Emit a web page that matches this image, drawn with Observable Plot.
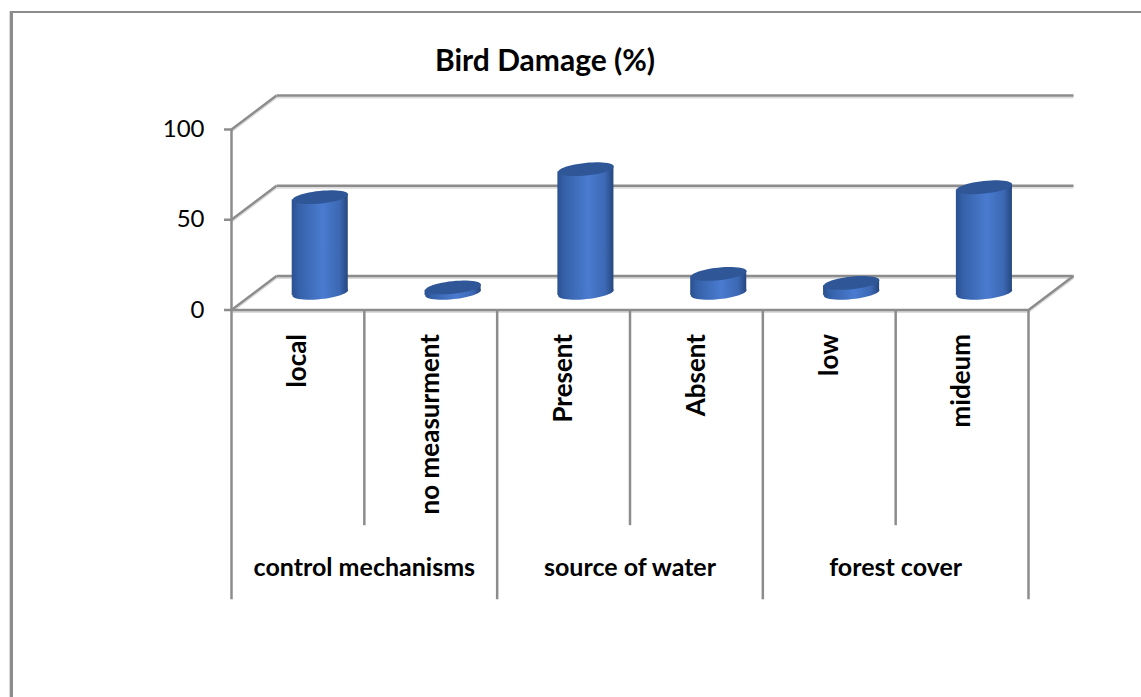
<!DOCTYPE html>
<html>
<head>
<meta charset="utf-8">
<script src="https://cdn.jsdelivr.net/npm/d3@7"></script>
<script src="https://cdn.jsdelivr.net/npm/@observablehq/plot@0.6"></script>
<style>
html,body{margin:0;padding:0;background:#fff;}
#outer{position:absolute;left:10px;top:11px;right:0;bottom:0;border-top:2px solid #8c8c8c;border-left:3px solid #8c8c8c;box-shadow:-1px 0 0 #d8d8d8;pointer-events:none;}
#chart{position:absolute;left:0;top:0;}
</style>
</head>
<body>
<div id="chart"></div>
<div id="outer"></div>
<script>
const categories = ["local","no measurment","Present","Absent","low","mideum"];
const values = [53, 3, 68.5, 10.5, 5.5, 58.5];
const groups = ["control mechanisms","source of water","forest cover"];
const groupSpans = [2, 2, 2];
const yTicks = [0, 50, 100];
const titleText = "Bird Damage (%)";

// 3-D look, in scale units
const depthX = 0.339, depthY = 18.8;
const barOffset = 0.168, barHalf = 0.211, baseY = 9.5, tilt = 1.5;
const gray = "#8c8c8c";
const font = "Lato";

const idx = categories.map((_, i) => i);
const bars = categories.map((c, i) => ({c, v: values[i], cx: i + 0.5 + barOffset, base: baseY, top: baseY + values[i]}));
const bodies = bars.flatMap(b => [
  {c: b.c, x: b.cx - barHalf, y1: b.base - tilt, y2: b.top - tilt},
  {c: b.c, x: b.cx + barHalf, y1: b.base + tilt, y2: b.top + tilt}
]);
let acc = 0;
const groupRows = groups.map((g, i) => { const s = acc; acc += groupSpans[i]; return {g, start: s, end: acc}; });
const innerTicks = idx.filter(i => !groupRows.some(g => g.start === i));
const outerTicks = [...groupRows.map(g => g.start), categories.length];

const ellipse = {
  draw(ctx, size) {
    const rx = Math.sqrt(size / Math.PI), ry = rx * 0.225, a = -6 * Math.PI / 180, n = 48;
    for (let k = 0; k <= n; ++k) {
      const t = 2 * Math.PI * k / n, ex = rx * Math.cos(t), ey = ry * Math.sin(t);
      const px = ex * Math.cos(a) - ey * Math.sin(a), py = ex * Math.sin(a) + ey * Math.cos(a);
      k ? ctx.lineTo(px, py) : ctx.moveTo(px, py);
    }
    ctx.closePath();
  }
};

const defs = () => {
  const d = d3.create("svg:defs");
  const g = d.append("linearGradient").attr("id", "cyl").attr("x1", 0).attr("x2", 1).attr("y1", 0).attr("y2", 0);
  [[0,"#2a5090"],[0.12,"#3561a8"],[0.55,"#4a7bd0"],[0.85,"#3c68b4"],[1,"#26477f"]].forEach(([o,c]) =>
    g.append("stop").attr("offset", o).attr("stop-color", c));
  return d.node();
};

const wallLines = yTicks.flatMap(v => [
  {x1: 0, y1: v, x2: depthX, y2: v + depthY},
  {x1: depthX, y1: v + depthY, x2: 6 + depthX, y2: v + depthY}
]);
wallLines.push({x1: 6, y1: 0, x2: 6 + depthX, y2: depthY});

const link = (o) => Plot.link(wallLines, {x1: "x1", y1: "y1", x2: "x2", y2: "y2", ...o});

const chart = Plot.plot({
  width: 1141, height: 697,
  marginLeft: 231, marginRight: 113, marginTop: 129, marginBottom: 387.5,
  style: {fontFamily: font, background: "#fff", overflow: "visible"},
  x: {domain: [0, 6], axis: null},
  y: {domain: [0, 100], axis: null},
  marks: [
    defs,
    link({stroke: "#dcdcdc", strokeWidth: 2, dy: 2}),
    link({stroke: gray, strokeWidth: 2.5}),
    Plot.ruleY([0], {x1: 0, x2: 6, stroke: "#dcdcdc", strokeWidth: 2, dy: 2}),
    Plot.ruleY([0], {x1: 0, x2: 6, stroke: gray, strokeWidth: 2.5}),
    Plot.ruleX([0], {y1: 0, y2: 100, stroke: gray, strokeWidth: 2.5}),
    Plot.ruleX(innerTicks, {x: d => d, y1: 0, y2: -119.5, stroke: gray, strokeWidth: 2.5}),
    Plot.ruleX(outerTicks, {x: d => d, y1: 0, y2: -160.5, stroke: gray, strokeWidth: 2.5}),
    Plot.axisY({ticks: yTicks, tickSize: 7, tickPadding: 20, fontSize: 24, stroke: gray, strokeWidth: 2.5, fill: "#000", label: null, tickFormat: d => String(d)}),
    Plot.dot(bars, {x: "cx", y: "base", r: 28, symbol: ellipse, fill: "url(#cyl)", stroke: "none"}),
    Plot.areaY(bodies, {x: "x", y1: "y1", y2: "y2", z: "c", fill: "url(#cyl)"}),
    Plot.dot(bars, {x: "cx", y: "top", r: 28, symbol: ellipse, fill: "#2f5797", stroke: "none"}),
    Plot.text(categories, {x: (d, i) => i + 0.5, y: 0, dy: 24, text: d => d, rotate: -90, textAnchor: "end", fontSize: 26, fontWeight: 700, fill: "#000"}),
    Plot.text(groupRows, {x: d => (d.start + d.end) / 2, y: 0, dy: 258, text: "g", fontSize: 25, fontWeight: 700, fill: "#000"}),
    Plot.text([titleText], {frameAnchor: "top", dx: -85, dy: -80, text: d => d, fontSize: 30, fontWeight: 700, fill: "#000"})
  ]
});
document.getElementById("chart").append(chart);
</script>
</body>
</html>
